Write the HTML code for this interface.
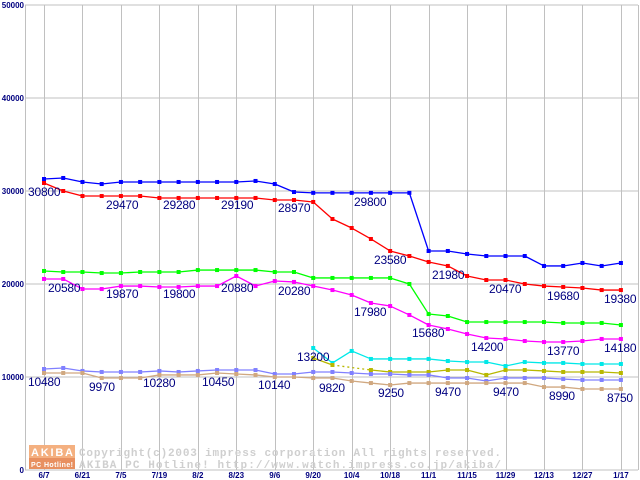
<!DOCTYPE html>
<html><head><meta charset="utf-8">
<style>
html,body{margin:0;padding:0;background:#fff;}
svg{display:block;}
</style></head>
<body>
<svg id="chart" width="640" height="480" xmlns="http://www.w3.org/2000/svg" font-family="Liberation Sans, sans-serif">
</svg>
<script>
const categories = ["6/7","","6/21","","7/5","","7/19","","8/2","","8/23","","9/6","","9/20","","10/4","","10/18","","11/1","","11/15","","11/29","","12/13","","12/27","","1/17"];
const yTicks = [0,10000,20000,30000,40000,50000];
const blueVals = [31290,31400,30970,30750,30970,30970,30970,30970,30970,30970,30970,31080,30750,29890,29800,29800,29800,29800,29800,29800,23550,23550,23230,23010,23010,23010,21940,21940,22260,21940,22260];
const redVals = [30860,30000,29460,29460,29460,29460,29250,29250,29250,29250,29250,29250,29030,29030,28820,26990,26020,24840,23550,23010,22370,21940,20860,20430,20430,20000,19780,19680,19570,19350,19350];
const greenVals = [21400,21290,21290,21180,21180,21290,21290,21290,21500,21500,21500,21500,21290,21290,20650,20650,20650,20650,20650,20000,16770,16560,15910,15910,15910,15910,15910,15810,15810,15810,15590];
const magentaVals = [20540,20540,19460,19460,19780,19780,19680,19680,19780,19780,20860,19780,20320,20220,19780,19350,18820,17960,17630,16670,15590,15160,14620,14190,14090,13870,13760,13760,13870,14090,14090];
const cyanVals = [null,null,null,null,null,null,null,null,null,null,null,null,null,null,13120,11510,12800,11940,11940,11940,11940,11720,11610,11610,11180,11610,11510,11510,11400,11400,11400];
const oliveVals = [null,null,null,null,null,null,null,null,null,null,null,null,null,null,12040,11290,null,10750,10540,10540,10540,10750,10750,10220,10750,10750,10650,10540,10540,10540,10430];
const periVals = [10860,10970,10650,10540,10540,10540,10650,10540,10650,10750,10750,10750,10320,10320,10540,10540,10430,10320,10320,10220,10220,9890,9890,9570,9890,9890,9890,9780,9680,9680,9680];
const tanVals = [10430,10430,10430,9890,9890,9890,10220,10220,10220,10430,10320,10220,10000,10000,9890,9890,9570,9350,9140,9350,9350,9350,9350,9350,9350,9350,8920,8920,8710,8710,8710];
const priceLabels = ["30800","29470","29280","29190","28970","29800","23580","21980","20470","19680","19380",
 "20580","19870","19800","20880","20280","17980","15680","14200","13770","14180",
 "10480","9970","10280","10450","10140","13200","9820","9250","9470","9470","8990","8750"];
const labelAnchors = [[28,192],[106,205],[163,205],[221,205],[278,208],[354,202],[374,260],[432,275],[489,289],[547,296],[604,299],
 [48,288],[106,294],[163,294],[221,288],[278,291],[354,312],[412,333],[471,347],[547,351],[604,348],
 [28,382],[89,387],[143,383],[202,382],[258,385],[297,357],[319,388],[378,393],[435,392],[493,392],[549,396],[607,398]];

const NS="http://www.w3.org/2000/svg";
const svg=document.getElementById('chart');
const X0=44, XSTEP=19.23, Y0=470, YSCALE=465/50000;
const xPos=i=>X0+i*XSTEP;
const yPos=v=>Y0-v*YSCALE;
function mk(tag,attrs,parent){const e=document.createElementNS(NS,tag);for(const k in attrs)e.setAttribute(k,attrs[k]);(parent||svg).appendChild(e);return e;}

// grid
const grid=mk('g',{});


yTicks.forEach(t=>{
  mk('line',{x1:25,x2:638,y1:yPos(t),y2:yPos(t),stroke:'#c0c0c0','stroke-width':1},grid);
  const tx=mk('text',{x:24,y:yPos(t)+3,'text-anchor':'end','font-size':8,'font-weight':'bold',fill:'#000080'},svg);
  
  
  tx.textContent=String(t);
});
mk('line',{x1:25.5,x2:25.5,y1:5,y2:470,stroke:'#c0c0c0'},grid);
mk('line',{x1:638.5,x2:638.5,y1:5,y2:470,stroke:'#c0c0c0'},grid);
categories.forEach((c,i)=>{
  if(!c)return;
  mk('line',{x1:Math.round(xPos(i))+0.5,x2:Math.round(xPos(i))+0.5,y1:5,y2:470,stroke:'#c0c0c0'},grid);
  const tx=mk('text',{x:xPos(i),y:478,'text-anchor':'middle','font-size':8,'font-weight':'bold',fill:'#000080'});
  
  
  tx.textContent=c;
});

// watermark
const wm=mk('g',{});


mk('rect',{x:29,y:445,width:46,height:13,fill:'#f4b080'},wm);
mk('rect',{x:29,y:458,width:46,height:11,fill:'#e89060'},wm);
const l1=mk('text',{x:31,y:456,'font-size':11,'font-weight':'bold',fill:'#fff',textLength:42},wm);l1.textContent='AKIBA';
const l2=mk('text',{x:31,y:467,'font-size':7,'font-weight':'bold',fill:'#fff',textLength:42},wm);l2.textContent='PC Hotline!';
const c1=mk('text',{x:79,y:456,'font-family':'Liberation Mono, monospace','font-size':11,'font-weight':'bold',fill:'#cfcfcf',textLength:422},wm);
c1.textContent='Copyright(c)2003 impress corporation All rights reserved.';
const c2=mk('text',{x:79,y:468,'font-family':'Liberation Mono, monospace','font-size':11,'font-weight':'bold',fill:'#cfcfcf',textLength:422},wm);
c2.textContent='AKIBA PC Hotline!  http://www.watch.impress.co.jp/akiba/';

// series
const series=[['blue-series',blueVals,'#0000ff'],['red-series',redVals,'#ff0000'],['green-series',greenVals,'#00ff00'],['magenta-series',magentaVals,'#ff00ff'],['cyan-series',cyanVals,'#00e8e8'],['olive-series',oliveVals,'#b8b800'],['periwinkle-series',periVals,'#8080ff'],['tan-series',tanVals,'#d0a880']];
series.forEach(([name,vals,col])=>{
  const g=mk('g',{});
  
  
  let prev=-1;
  vals.forEach((v,i)=>{
    if(v==null)return;
    if(prev>=0){
      const ln=mk('line',{x1:xPos(prev),y1:yPos(vals[prev]),x2:xPos(i),y2:yPos(v),stroke:col,'stroke-width':1.3},g);
      if(i-prev>1)ln.setAttribute('stroke-dasharray','2,3');
    }
    prev=i;
  });
  vals.forEach((v,i)=>{
    if(v==null)return;
    const r=mk('rect',{x:xPos(i)-2,y:yPos(v)-2,width:4,height:4,fill:col},g);
    
    
  });
});

// value labels
priceLabels.forEach((t,i)=>{
  const a=labelAnchors[i];
  const tx=mk('text',{x:a[0],y:a[1]+4,'font-size':12,fill:'#000080','letter-spacing':'-0.2'});
  
  
  tx.textContent=t;
});
</script>
</body></html>
